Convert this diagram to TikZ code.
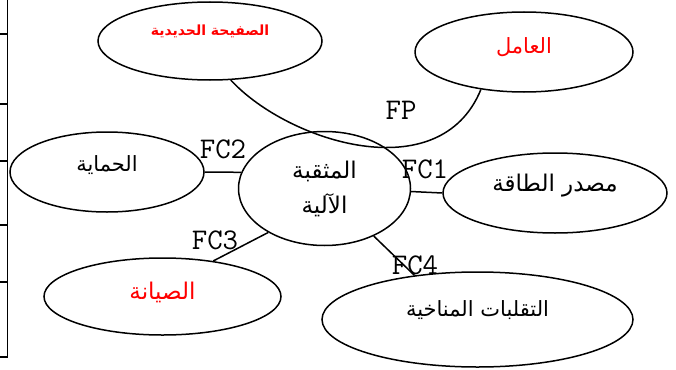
\documentclass[tikz,border=0pt]{standalone}
\usepackage{fontspec}
\usepackage{tikz}
\usetikzlibrary{shapes.geometric}
\newfontfamily\arabicfont[Script=Arabic]{DejaVu Sans}
\TeXXeTstate=1

\begin{document}
\begin{tikzpicture}[x=1pt, y=-1pt,
    line width=1.5pt,
    oval/.style={draw, ellipse, inner sep=0pt},
    word/.style={font=\arabicfont\fontsize{21}{25}\selectfont},
    redword/.style={word, text=red},
    force/.style={font=\ttfamily\fontsize{30}{32}\selectfont, inner sep=0pt}
    ]
    \useasboundingbox (0,0) rectangle (676,369);
    % edge of the table on the left
    \draw (7.5,0) -- (7.5,357) -- (0,357);
    \foreach \ty in {34,104,161,225,282}
      \draw (0,\ty) -- (7.5,\ty);

    \node[oval, minimum width=172, minimum height=114, align=center,
      word, font=\arabicfont\fontsize{23}{27}\selectfont] (mach) at (324.5,188.5)
      {\beginR المثقبة\endR\\[8pt]\beginR الآلية\endR};
    \node[oval, minimum width=224, minimum height=78,
      label={[redword, font=\arabicfont\bfseries\fontsize{14}{16}\selectfont,
        yshift=10]center:\beginR الصفيحة الحديدية\endR}] (plate) at (210,41) {};
    \node[oval, minimum width=218, minimum height=80,
      label={[redword, yshift=5]center:\beginR العامل\endR}] (worker) at (524,52) {};
    \node[oval, minimum width=194, minimum height=80,
      label={[word, yshift=7]center:\beginR الحماية\endR}] (prot) at (107,172) {};
    \node[oval, minimum width=224, minimum height=80,
      label={[word, font=\arabicfont\fontsize{23}{27}\selectfont,
        yshift=7]center:\beginR مصدر الطاقة\endR}] (power) at (555,193) {};
    \node[oval, minimum width=237, minimum height=77,
      label={[redword, font=\arabicfont\fontsize{23}{27}\selectfont,
        yshift=4]center:\beginR الصيانة\endR}] (maint) at (162.5,296.5) {};
    \node[oval, minimum width=311, minimum height=95,
      label={[word, yshift=9]center:\beginR التقلبات المناخية\endR}] (clim) at (477.5,319.5) {};

    \draw (plate.-62) .. controls (288,142) and (440,190) .. (worker.221);
    \draw (mach.-2) -- (power.west);
    \draw (prot.east) -- (mach.169);
    \draw (mach.218) -- (maint.35);
    \draw (mach.-44) -- (clim.145);

    \node[force] (fp) at (401,110) {FP};
    \node[force] (fc1) at (425,169) {FC1};
    \node[force] (fc2) at (223,149) {FC2};
    \node[force] (fc3) at (215,240) {FC3};
    \node[force] (fc4) at (415,265) {FC4};
\end{tikzpicture}
\end{document}
